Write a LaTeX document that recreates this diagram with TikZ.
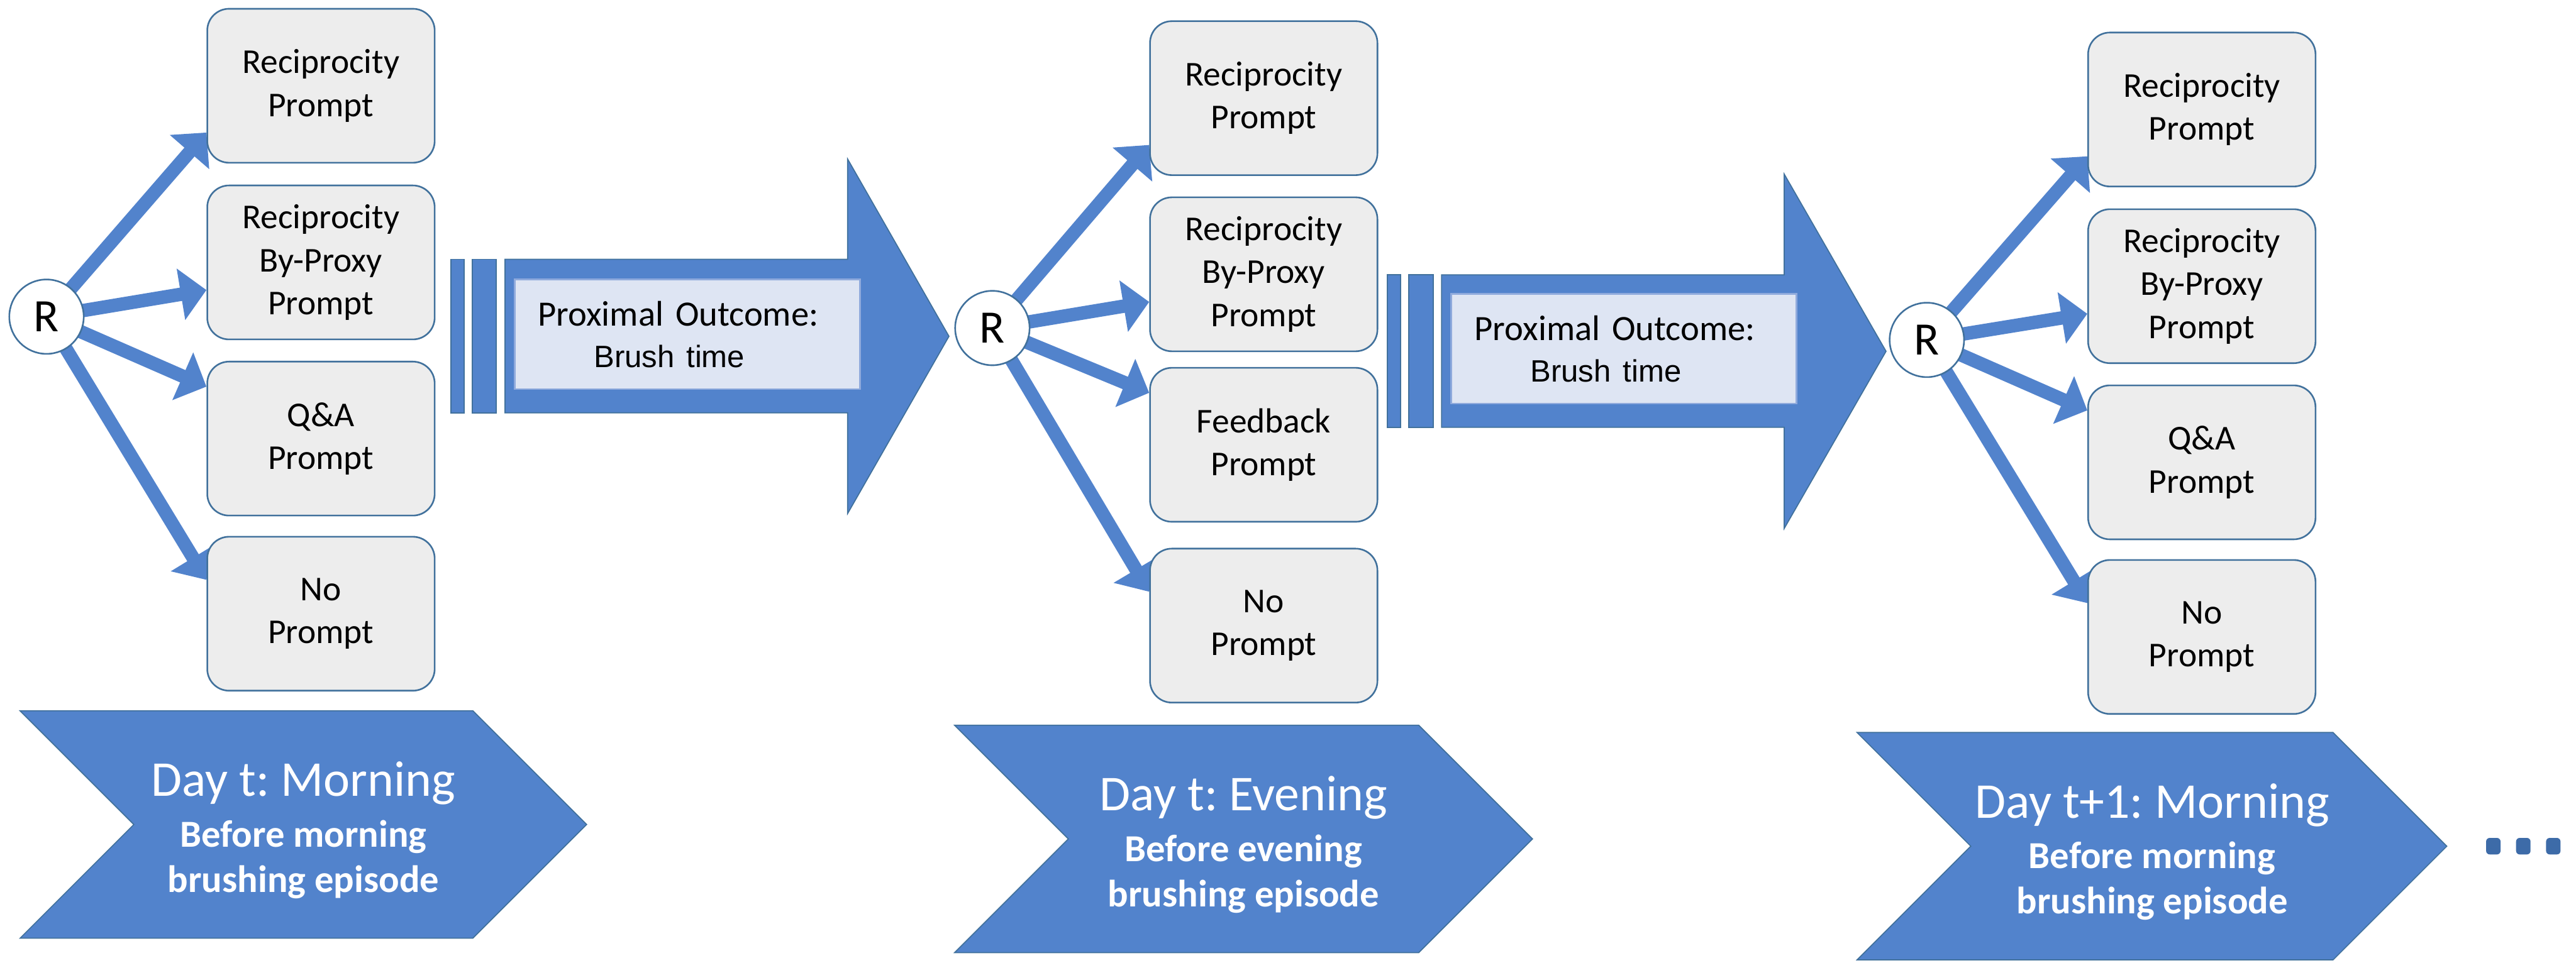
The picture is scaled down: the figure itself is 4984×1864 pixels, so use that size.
\documentclass[tikz,border=0pt]{standalone}
\usepackage{fontspec}
\setmainfont{Carlito}
\newfontfamily\arialfont{Liberation Sans}
\usetikzlibrary{arrows.meta,calc,backgrounds}
\frenchspacing

\definecolor{chevblue}{HTML}{5283CC}
\definecolor{edgeblue}{HTML}{41719C}
\definecolor{promptgray}{HTML}{EDEDED}
\definecolor{outcomefill}{HTML}{DEE5F3}
\definecolor{outcomeedge}{HTML}{8FAADC}
\definecolor{dotblue}{HTML}{3D6BA8}

\tikzset{
  prompt/.style={draw=edgeblue, line width=0.9pt, fill=promptgray, rounded corners=12pt,
    minimum width=44mm, minimum height=29.8mm, align=center, inner sep=0pt,
    font=\fontsize{19.2pt}{23.6pt}\selectfont},
  rnode/.style={circle, draw=edgeblue, line width=0.9pt, fill=white, minimum size=14.4mm,
    inner sep=0pt, font=\fontsize{25.6pt}{26pt}\selectfont},
  choice/.style={chevblue, line width=2.6mm, -{Triangle[length=5mm, width=9.8mm]}},
  bigshape/.style={fill=chevblue, draw=edgeblue, line width=0.6pt},
  outcome/.style={fill=outcomefill, draw=outcomeedge, line width=0.9pt, minimum width=66.8mm,
    minimum height=21.2mm, inner xsep=4.5mm, text width=57.8mm, align=left,
    font=\fontsize{19.6pt}{22.8pt}\selectfont},
  daytext/.style={white, align=center, font=\fontsize{21pt}{25pt}\selectfont\bfseries}
}

\begin{document}
\begin{tikzpicture}[x=0.1mm, y=-0.1mm]
\useasboundingbox (0,0) rectangle (4984,1864);

% day t, morning
\node[rnode] (r1) at (90,613) {R};
\node[prompt] (p11) at (621,166) {Reciprocity\\Prompt};
\node[prompt] (p12) at (621,508) {Reciprocity\\By-Proxy\\Prompt};
\node[prompt] (p13) at (621,849) {Q\&A\\Prompt};
\node[prompt] (p14) at (621,1188) {No\\Prompt};

% day t, evening
\node[rnode] (r2) at (1920,635) {R};
\node[prompt] (p21) at (2445,190) {Reciprocity\\Prompt};
\node[prompt] (p22) at (2445,531) {Reciprocity\\By-Proxy\\Prompt};
\node[prompt] (p23) at (2445,861) {Feedback\\Prompt};
\node[prompt] (p24) at (2445,1211) {No\\Prompt};

% day t+1, morning
\node[rnode] (r3) at (3728,658) {R};
\node[prompt] (p31) at (4260,212) {Reciprocity\\Prompt};
\node[prompt] (p32) at (4260,554) {Reciprocity\\By-Proxy\\Prompt};
\node[prompt] (p33) at (4260,895) {Q\&A\\Prompt};
\node[prompt] (p34) at (4260,1233) {No\\Prompt};

\begin{pgfonlayer}{background}
\foreach \c in {1,2,3}{
  \draw[choice] (r\c.center) -- ($(p\c1.south west)+(0,-60)$);
  \draw[choice] (r\c.center) -- ($(p\c2.north west)+(0,204)$);
  \draw[choice] (r\c.center) -- ($(p\c3.north west)+(0,50)$);
  \draw[choice] (r\c.center) -- ($(p\c4.north west)+(0,85)$);
}
\end{pgfonlayer}

% proximal outcome arrows
\draw[bigshape] (872,502) rectangle (898,799);
\draw[bigshape] (914,502) rectangle (960,799);
\draw[bigshape] (977,502) -- (1640,502) -- (1640,308) -- (1836,651) -- (1640,994)
  -- (1640,799) -- (977,799) -- cycle;
\node[outcome] (o1) at (1330,647) {Proximal Outcome:\\
  \hspace*{10.8mm}{\arialfont\fontsize{17pt}{22.8pt}\selectfont Brush time}};

\draw[bigshape] (2684,532) rectangle (2710,827);
\draw[bigshape] (2726,532) rectangle (2773,827);
\draw[bigshape] (2789,532) -- (3452,532) -- (3452,337) -- (3649,680) -- (3452,1023)
  -- (3452,827) -- (2789,827) -- cycle;
\node[outcome] (o2) at (3142,675) {Proximal Outcome:\\
  \hspace*{10.8mm}{\arialfont\fontsize{17pt}{22.8pt}\selectfont Brush time}};

% time line
\draw[bigshape] (39,1376) -- (915,1376) -- (1135,1596) -- (915,1816) -- (39,1816)
  -- (259,1596) -- cycle;
\node[daytext] (d1) at (587,1607) {{\mdseries\fontsize{27.6pt}{25pt}\selectfont Day t: Morning}\\[2.9pt]
  Before morning\\brushing episode};

\draw[bigshape] (1847,1404) -- (2745,1404) -- (2965,1624) -- (2745,1844) -- (1847,1844)
  -- (2067,1624) -- cycle;
\node[daytext] (d2) at (2406,1635) {{\mdseries\fontsize{27.6pt}{25pt}\selectfont Day t: Evening}\\[2.9pt]
  Before evening\\brushing episode};

\draw[bigshape] (3593,1418) -- (4514,1418) -- (4734,1638) -- (4514,1858) -- (3593,1858)
  -- (3813,1638) -- cycle;
\node[daytext] (d3) at (4164,1649) {{\mdseries\fontsize{27.6pt}{25pt}\selectfont Day t+1: Morning}\\[2.9pt]
  Before morning\\brushing episode};

\foreach \x in {4824,4882,4940}
  \fill[dotblue, rounded corners=2pt] (\x-14,1622) rectangle (\x+14,1654);
\end{tikzpicture}
\end{document}
